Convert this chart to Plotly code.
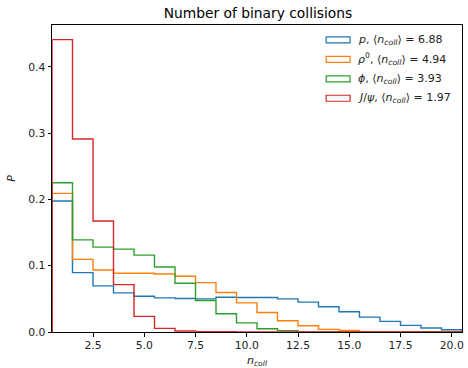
import plotly.graph_objects as go

# ---- data ----
bin_edges = [0.5 + i for i in range(21)]  # bins of width 1 centred on 1..20

p_vals = [0.1975, 0.0895, 0.0695, 0.059, 0.054, 0.0515, 0.0505, 0.050, 0.0525, 0.052,
          0.052, 0.050, 0.045, 0.038, 0.0305, 0.0225, 0.016, 0.010, 0.006, 0.0035]
rho_vals = [0.209, 0.1095, 0.0935, 0.0885, 0.0885, 0.0875, 0.084, 0.0745, 0.0595, 0.044,
            0.0295, 0.017, 0.0095, 0.004, 0.0025, 0.0, 0.0, 0.0, 0.0, 0.0]
phi_vals = [0.225, 0.139, 0.128, 0.125, 0.116, 0.098, 0.0735, 0.0475, 0.0275, 0.0138,
            0.005, 0.002, 0.0, 0.0, 0.0, 0.0, 0.0, 0.0, 0.0, 0.0]
jpsi_vals = [0.441, 0.291, 0.1675, 0.0715, 0.0235, 0.0055, 0.0015, 0.0005, 0.0003, 0.0,
             0.0, 0.0, 0.0, 0.0, 0.0, 0.0, 0.0, 0.0, 0.0, 0.0]

series_names = ["<i>p</i>", "<i>ρ</i><sup>0</sup>", "<i>ϕ</i>", "<i>J</i>/<i>ψ</i>"]
mean_ncoll = ["6.88", "4.94", "3.93", "1.97"]
series_vals = [p_vals, rho_vals, phi_vals, jpsi_vals]
colors = ["#1f77b4", "#ff7f0e", "#2ca02c", "#d62728"]

x_ticks = [2.5, 5.0, 7.5, 10.0, 12.5, 15.0, 17.5, 20.0]
y_ticks = [0.0, 0.1, 0.2, 0.3, 0.4]

# ---- figure ----
W, H = 468, 368
ml, mr, mt, mb = 52, 4, 25, 35
pw, ph = W - ml - mr, H - mt - mb

fig = go.Figure()
for vals, col in zip(series_vals, colors):
    xs = [bin_edges[0]] + bin_edges[:-1] + [bin_edges[-1], bin_edges[-1]]
    ys = [0] + vals + [vals[-1], 0]
    fig.add_trace(go.Scatter(x=xs, y=ys, mode="lines", line=dict(color=col, width=1.4, shape="hv"),
                             showlegend=False, hoverinfo="skip"))

# manual matplotlib-like legend
row_px = [40, 59.5, 79, 98.5]
for i, (name, m, col) in enumerate(zip(series_names, mean_ncoll, colors)):
    yc = 1 - (row_px[i] - mt) / ph
    dy = 3 / ph
    fig.add_shape(type="rect", xref="paper", yref="paper",
                  x0=(327.5 - ml) / pw, x1=(351.5 - ml) / pw, y0=yc - dy, y1=yc + dy,
                  line=dict(color=col, width=1.2), fillcolor="rgba(0,0,0,0)")
    fig.add_annotation(xref="paper", yref="paper", x=(357 - ml) / pw, y=yc,
                       xanchor="left", yanchor="middle", showarrow=False,
                       text=f"{name}, ⟨<i>n</i><sub><i>coll</i></sub>⟩ = {m}",
                       font=dict(family="DejaVu Sans", size=11, color="#222"))

axis_common = dict(showline=True, linecolor="black", linewidth=1, mirror=True,
                   ticks="outside", ticklen=3.5, tickwidth=0.8, tickcolor="black",
                   showgrid=False, zeroline=False,
                   tickfont=dict(family="DejaVu Sans", size=10.8, color="#222"))

fig.update_layout(
    width=W, height=H,
    margin=dict(l=ml, r=mr, t=mt, b=mb),
    paper_bgcolor="white", plot_bgcolor="white",
    title=dict(text="Number of binary collisions", x=(ml + pw / 2) / W, xanchor="center",
               y=1 - 13 / H, yanchor="middle", yref="container",
               font=dict(family="DejaVu Sans", size=13.8, color="black")),
    xaxis=dict(range=[bin_edges[0], bin_edges[-1]], tickvals=x_ticks,
               ticktext=[f"{v:.1f}" for v in x_ticks],
               title=dict(text="<i>n</i><sub><i>coll</i></sub>", standoff=4,
                          font=dict(family="DejaVu Sans", size=11, color="#222")),
               **axis_common),
    yaxis=dict(range=[0, 0.463], tickvals=y_ticks,
               ticktext=[f"{v:.1f}" for v in y_ticks],
               title=dict(text="<i>P</i>", standoff=10,
                          font=dict(family="DejaVu Sans", size=11, color="#222")),
               **axis_common),
)

fig.write_html("out.html")
